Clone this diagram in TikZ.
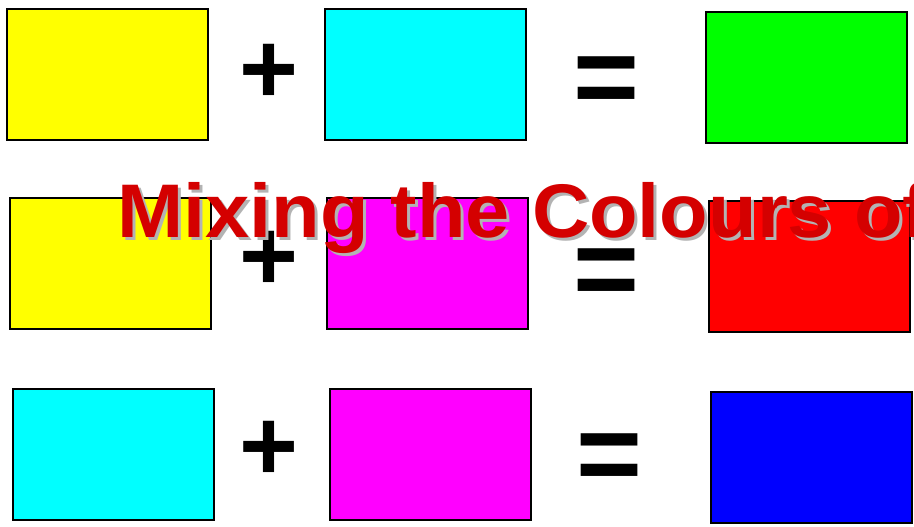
\documentclass[tikz,border=0pt]{standalone}
\usepackage{fontspec}
\setmainfont{Liberation Sans}
\usetikzlibrary{positioning}
\definecolor{titlered}{HTML}{D40000}
\definecolor{shadowgray}{HTML}{B3B3B3}
\definecolor{pyellow}{HTML}{FFFF00}
\definecolor{pcyan}{HTML}{00FFFF}
\definecolor{pmagenta}{HTML}{FF00FF}
\definecolor{pgreen}{HTML}{00FF00}
\definecolor{pred}{HTML}{FF0000}
\definecolor{pblue}{HTML}{0000FF}
\tikzset{
  swatch/.style={draw=black,line width=1.5pt,minimum width=150.75pt,minimum height=98.25pt,inner sep=0pt},
  plussign/.style={font=\fontsize{75.75}{80}\selectfont\bfseries,inner sep=0pt,anchor=base},
  eqsign/.style={font=\fontsize{84.75}{90}\selectfont\bfseries,inner sep=0pt,anchor=base},
  headline/.style={font=\fontsize{57}{62}\selectfont\bfseries,inner sep=0pt,anchor=base west,xscale=1.045,transform shape},
}

\begin{document}
\begin{tikzpicture}[x=0.75pt,y=-0.75pt]
  \useasboundingbox (0,0) rectangle (914,527);
  \clip (0,0) rectangle (914,527);
  \fill[white] (0,0) rectangle (914,527);
  % yellow + cyan = green
  \node[swatch,fill=pyellow] (yellowA) at (107.5,74.5) {};
  \node[plussign] (plusA) at (269,104) {+};
  \node[swatch,fill=pcyan] (cyanA) at (425,74.5) {};
  \node[eqsign] (eqA) at (606,116) {=};
  \node[swatch,fill=pgreen] (greenA) at (806.5,78) {};
  % yellow + magenta = red
  \node[swatch,fill=pyellow] (yellowB) at (110.5,264) {};
  \node[plussign] (plusB) at (269,291) {+};
  \node[swatch,fill=pmagenta] (magentaB) at (427.5,264) {};
  \node[eqsign] (eqB) at (606,308) {=};
  \node[swatch,fill=pred] (redB) at (809,267) {};
  % cyan + magenta = blue
  \node[swatch,fill=pcyan] (cyanC) at (113,454) {};
  \node[plussign] (plusC) at (269,480) {+};
  \node[swatch,fill=pmagenta] (magentaC) at (430.5,454) {};
  \node[eqsign] (eqC) at (609,492) {=};
  \node[swatch,fill=pblue] (blueC) at (811.5,457) {};
  % title with its shadow
  \node[headline,text=shadowgray] (titleshadow) at (120,241) {Mixing the Colours of};
  \node[headline,text=titlered] (title) at (117,238) {Mixing the Colours of};
\end{tikzpicture}
\end{document}
